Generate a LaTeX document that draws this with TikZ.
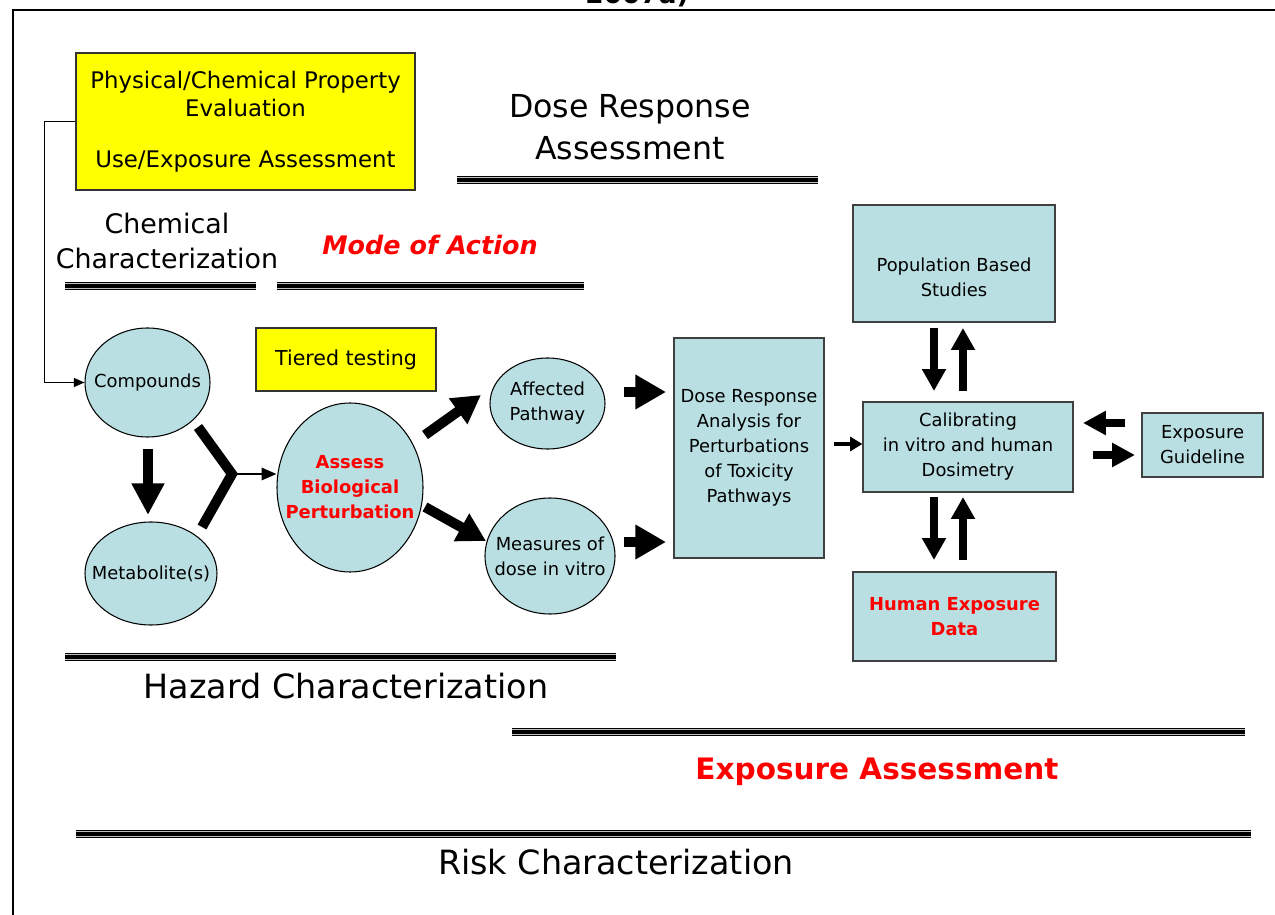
\documentclass[tikz,border=0pt]{standalone}
\usepackage{fontspec}
\setmainfont{DejaVu Sans}
\usetikzlibrary{arrows.meta,shapes.geometric,calc}
\definecolor{lblue}{RGB}{185,223,226}
\definecolor{ryellow}{RGB}{255,255,0}
\definecolor{tred}{RGB}{255,0,0}
\newcommand{\trline}[3]{%
  \draw[line width=5pt,black] (#1,#3) -- (#2,#3);
  \draw[line width=3.2pt,black!25] (#1,#3) -- (#2,#3);
  \draw[line width=2.2pt,black] (#1,#3) -- (#2,#3);}
\begin{document}
\begin{tikzpicture}[x=0.02cm,y=-0.02cm,
  body/.style={font=\fontsize{10.2}{14.2}\selectfont},
  bbox/.style={draw=black!75,line width=0.7pt,fill=lblue,inner sep=0pt,align=center,body},
  ybox/.style={draw=black!80,line width=0.7pt,fill=ryellow,inner sep=0pt,align=center},
  ell/.style={ellipse,draw=black,line width=0.6pt,fill=lblue,inner sep=0pt},
  etxt/.style={align=center,inner sep=0pt,body},
  redt/.style={text=tred,font=\bfseries\fontsize{10.2}{14.2}\selectfont},
  blk/.style n args={3}{line width=#1,-{Triangle[length=#2,width=#3]}},
  title/.style={align=center,inner sep=0pt}
]
\useasboundingbox (0,0) rectangle (1275,915);
% frame
\draw[line width=1.2pt] (13,940) -- (13,10) -- (1300,10);
\node[anchor=base,font=\bfseries\fontsize{15}{18}\selectfont] (yr) at (637,4) {2007a)};

% titles
\node[title,font=\fontsize{18}{24}\selectfont] (dra) at (630,127) {Dose Response\\Assessment};
\node[title,font=\fontsize{15.3}{20}\selectfont] (chem) at (167,241) {Chemical\\Characterization};
\node[title,text=tred,font=\bfseries\itshape\fontsize{14.5}{16}\selectfont] (moa) at (430,245) {Mode of Action};
\node[title,font=\fontsize{19}{22}\selectfont] (haz) at (346,686) {Hazard Characterization};
\node[title,text=tred,font=\bfseries\fontsize{16.8}{20}\selectfont] (expa) at (877,772) {Exposure Assessment};
\node[title,font=\fontsize{19}{22}\selectfont] (risk) at (616,862) {Risk Characterization};

% triple lines
\trline{457}{818}{180}
\trline{65}{256}{286}
\trline{277}{584}{286}
\trline{65}{616}{657}
\trline{512}{1245}{732}
\trline{76}{1251}{834}

% yellow boxes
\node[ybox,minimum width={339*0.02cm},minimum height={137*0.02cm},font=\fontsize{13}{16}\selectfont] (yel) at (245.5,121.5)
  {Physical/Chemical Property\\Evaluation\\[13pt]Use/Exposure Assessment};
\node[ybox,minimum width={180*0.02cm},minimum height={63*0.02cm},font=\fontsize{11.7}{14}\selectfont] (tier) at (346,359.5) {Tiered testing};

% ellipses
\node[ell,minimum width={125*0.02cm},minimum height={109*0.02cm},label={[etxt]center:Compounds}] (comp) at (147.5,382.5) {};
\node[ell,minimum width={132*0.02cm},minimum height={103*0.02cm},label={[etxt]center:Metabolite(s)}] (metab) at (151,573.5) {};
\node[ell,minimum width={146*0.02cm},minimum height={169*0.02cm},label={[etxt,redt]center:Assess\\Biological\\Perturbation}] (assess) at (350,487.5) {};
\node[ell,minimum width={115*0.02cm},minimum height={91*0.02cm},label={[etxt]center:Affected\\Pathway}] (aff) at (547.5,403.5) {};
\node[ell,minimum width={130*0.02cm},minimum height={116*0.02cm},label={[etxt]center:Measures of\\dose in vitro}] (meas) at (550,556) {};

% blue boxes
\node[bbox,minimum width={150*0.02cm},minimum height={220*0.02cm}] (dose) at (749,448)
  {Dose Response\\Analysis for\\Perturbations\\of Toxicity\\Pathways};
\node[bbox,minimum width={210*0.02cm},minimum height={90*0.02cm}] (calib) at (968,447)
  {Calibrating\\in vitro and human\\Dosimetry};
\node[bbox,minimum width={121*0.02cm},minimum height={64*0.02cm}] (guide) at (1202.5,445) {Exposure\\Guideline};
\node[bbox,minimum width={202*0.02cm},minimum height={117*0.02cm},label={[etxt,yshift={-14*0.02cm}]center:Population Based\\Studies}] (pop) at (954,263.5) {};
\node[bbox,minimum width={203*0.02cm},minimum height={89*0.02cm},redt] (human) at (954.5,616.5) {Human Exposure\\Data};

% connector yellow -> compounds
\draw[line width=0.9pt,-{Triangle[length=6pt,width=5pt]}] (yel.west) -- ++(-31,0) |- (comp.west);

% arrow coordinates
\coordinate (cm1) at (148,449); \coordinate (cm2) at (148,515);
\coordinate (y1) at (198,427); \coordinate (yj) at (232,474); \coordinate (y2) at (202,527);
\coordinate (as1) at (425,435); \coordinate (as2) at (481,395);
\coordinate (as3) at (425,507); \coordinate (as4) at (486,541);
\coordinate (af1) at (624,392); \coordinate (af2) at (666,392);
\coordinate (me1) at (624,542); \coordinate (me2) at (666,542);
\coordinate (dc1) at (834,444);
\coordinate (pd1) at (934,328); \coordinate (pd2) at (934,391);
\coordinate (pu1) at (963,391); \coordinate (pu2) at (963,328);
\coordinate (hd1) at (934,497); \coordinate (hd2) at (934,560);
\coordinate (hu1) at (963,560); \coordinate (hu2) at (963,497);
\coordinate (gl1) at (1125,423); \coordinate (gl2) at (1083,423);
\coordinate (gr1) at (1093,455); \coordinate (gr2) at (1135,455);

\draw[blk={5.7pt}{18pt}{17.6pt}] (cm1) -- (cm2);
\draw[line width=5.7pt,line join=miter] (y1) -- (yj) -- (y2);
\draw[line width=1.3pt,-{Triangle[length=8.5pt,width=7pt]}] (yj) -- (yj -| assess.west);
\draw[blk={5.7pt}{16pt}{17pt}] (as1) -- (as2);
\draw[blk={5.7pt}{16pt}{17pt}] (as3) -- (as4);
\draw[blk={6.2pt}{17.5pt}{18.7pt}] (af1) -- (af2);
\draw[blk={6.2pt}{17.5pt}{18.7pt}] (me1) -- (me2);
\draw[blk={2.8pt}{7pt}{8pt}] (dc1) -- (dc1 -| calib.west);
\draw[blk={4.5pt}{12.5pt}{13pt}] (pd1) -- (pd2);
\draw[blk={4.5pt}{12.5pt}{13pt}] (pu1) -- (pu2);
\draw[blk={4.5pt}{12.5pt}{13pt}] (hd1) -- (hd2);
\draw[blk={4.5pt}{12.5pt}{13pt}] (hu1) -- (hu2);
\draw[blk={4pt}{13pt}{13pt}] (gl1) -- (gl2);
\draw[blk={4pt}{13pt}{13pt}] (gr1) -- (gr2);
\end{tikzpicture}
\end{document}
